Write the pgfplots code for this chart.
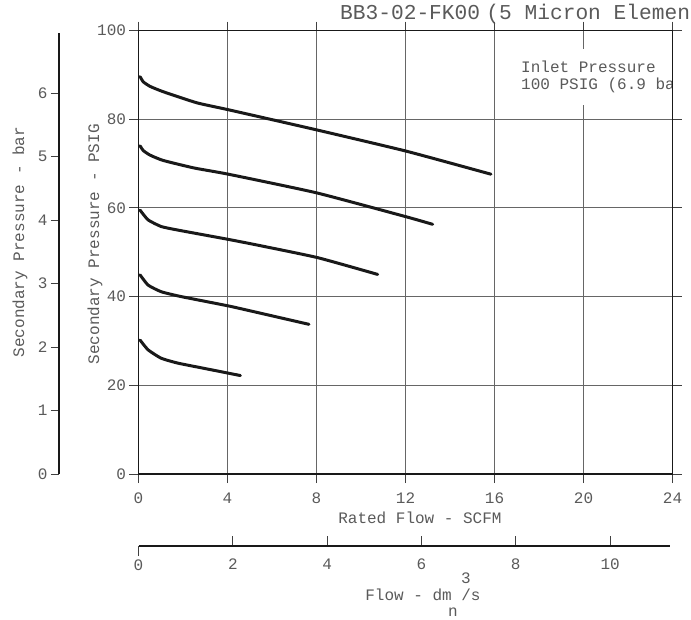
\documentclass[border=0pt]{standalone}
\usepackage{fontspec}
\setmainfont{Liberation Mono}
\usepackage{pgfplots}
\pgfplotsset{compat=1.18}
\definecolor{txt}{HTML}{5A5A5A}
\newcommand{\tf}{\fontsize{16}{17}\selectfont}
\begin{document}
\begin{tikzpicture}
\pgfplotsset{
  base/.style={scale only axis,
    /pgf/number format/assume math mode=true,
    tick label style={font=\tf, text=txt},
    label style={font=\tf, text=txt},
    tick style={black!75, line width=1pt}},
  curve/.style={black!90, line width=3pt, line cap=round, line join=round, smooth, tension=0.3},
}
% main axis
\begin{axis}[base, name=main, at={(138.5pt,-474pt)}, anchor=south west,
  width=534pt, height=443.5pt,
  xmin=0, xmax=24, ymin=0, ymax=100,
  xtick={0,4,...,24}, ytick={0,20,...,100},
  grid=major, major grid style={black!60, line width=0.9pt},
  tick align=outside,
  major tick length=9pt,
  xticklabel style={yshift=-6pt},
  axis line style={line width=1.8pt, black!90},
  xlabel={Rated Flow - SCFM},
  ylabel={Secondary Pressure - PSIG},
  xlabel style={at={(axis description cs:0.527,-0.099)}, anchor=center},
  ylabel style={at={(axis description cs:-0.0815,0.518)}, anchor=center},
]
\addplot[curve] coordinates {(0.07,89.6) (0.22,88.4) (0.52,87.4) (1.11,86.2) (2.62,83.7) (4.07,82.1) (8.0,77.6) (12.03,72.8) (15.84,67.6)};
\addplot[curve] coordinates {(0.07,74.0) (0.22,72.9) (0.52,71.9) (1.11,70.7) (2.5,69.0) (4.04,67.6) (8.0,63.4) (12.03,58.0) (13.22,56.3)};
\addplot[curve] coordinates {(0.07,59.5) (0.43,57.3) (1.02,55.8) (1.77,55.0) (4.04,52.9) (5.36,51.6) (8.04,48.8) (10.75,45.0)};
\addplot[curve] coordinates {(0.07,44.9) (0.43,42.6) (1.02,41.1) (1.92,40.0) (4.04,37.9) (5.36,36.4) (7.66,33.75)};
\addplot[curve] coordinates {(0.07,30.2) (0.43,28.0) (1.02,26.1) (1.77,25.0) (2.97,23.8) (4.58,22.2)};
\end{axis}
% bar axis
\begin{axis}[base, at={(59pt,-474pt)}, anchor=south west,
  width=10pt, height=441pt,
  xmin=0, xmax=1, ymin=0, ymax=6.95,
  axis y line*=left, hide x axis,
  ytick={0,...,6}, tick align=outside,
  major tick length=8pt,
  axis line style={line width=1.8pt, black!90},
  ylabel={Secondary Pressure - bar},
  ylabel style={at={(axis description cs:-3.9,0.526)}, anchor=center},
]
\end{axis}
% dm3/s axis
\begin{axis}[base, at={(138.5pt,-546pt)}, anchor=south west,
  width=531.5pt, height=10pt,
  xmin=0, xmax=11.27, ymin=0, ymax=1,
  axis x line*=bottom, hide y axis,
  xtick={2,4,...,10}, tick align=inside,
  major tick length=10pt,
  xticklabel style={yshift=-9pt},
  extra x ticks={0},
  extra x tick style={tick align=outside, xticklabel style={yshift=9pt}},
  axis line style={line width=1.8pt, black!90},
]
\end{axis}
\node[font=\tf, text=txt] at (423pt,-595pt) {Flow - dm /s};
\node[font=\tf, text=txt] at (466pt,-578pt) {3};
\node[font=\tf, text=txt] at (453pt,-612pt) {n};
\node[font=\fontsize{21.2}{24}\selectfont, text=txt, anchor=west, inner sep=0pt] at (340pt,-14pt) {BB3-02-FK00\hspace{0.3em}(5 Micron Element)};
\begin{scope}
\clip (139.5pt,-473pt) rectangle (671.4pt,-31.5pt);
\node[font=\tf, text=txt, fill=white, anchor=north west, align=left, inner xsep=3pt, inner ysep=12pt] at (518pt,-49pt) {Inlet Pressure\\100 PSIG (6.9 bar)};
\end{scope}
\pgfresetboundingbox
\useasboundingbox (0pt,0pt) rectangle (691pt,-619pt);
\end{tikzpicture}
\end{document}
